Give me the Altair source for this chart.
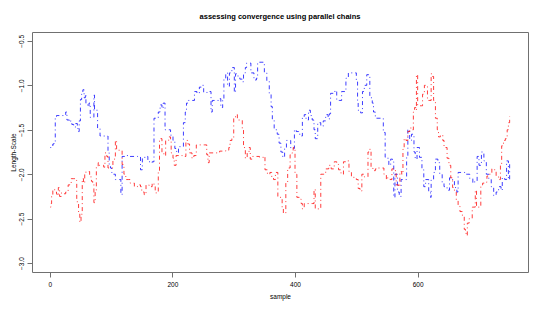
import altair as alt
import pandas as pd

# ---- data ----
blue_sample = [1, 2, 5, 7, 9, 11, 18, 25, 26, 28, 32, 34, 36, 39, 42, 45, 46, 48, 50, 52,
               54, 56, 58, 59, 62, 64, 66, 70, 72, 73, 76, 78, 82, 90, 93, 95, 97, 99, 101, 104,
               107, 114, 116, 118, 123, 128, 143, 148, 151, 155, 160, 164, 167, 170, 175, 177, 180, 183, 185, 188,
               196, 197, 201, 204, 207, 210, 215, 218, 221, 223, 226, 232, 236, 240, 244, 247, 251, 257, 260, 263,
               265, 271, 275, 279, 282, 284, 287, 290, 293, 297, 301, 303, 307, 310, 314, 316, 319, 321, 325, 328,
               333, 337, 339, 346, 350, 354, 358, 361, 363, 366, 369, 371, 374, 377, 380, 383, 386, 390, 393, 396,
               399, 402, 406, 410, 412, 415, 418, 422, 425, 428, 431, 433, 437, 442, 446, 450, 454, 456, 458, 462,
               465, 468, 473, 476, 480, 483, 487, 493, 498, 500, 502, 503, 507, 510, 513, 517, 520, 522, 526, 528,
               531, 542, 544, 547, 550, 553, 556, 559, 561, 563, 567, 570, 573, 578, 582, 584, 587, 590, 594, 596,
               599, 603, 607, 610, 613, 618, 621, 622, 626, 629, 633, 636, 640, 643, 648, 652, 657, 660, 664, 666,
               674, 677, 682, 685, 690, 693, 697, 700, 704, 708, 712, 716, 720, 724, 728, 732, 736, 738, 742, 745,
               748, 750]
blue_value = [-1.70, -1.69, -1.66, -1.63, -1.36, -1.34, -1.34, -1.34, -1.30, -1.39, -1.41, -1.40, -1.44, -1.47, -1.43, -1.48, -1.52, -1.40, -1.16, -1.10,
              -1.05, -1.14, -1.10, -1.21, -1.24, -1.20, -1.36, -1.36, -1.11, -1.28, -1.28, -1.48, -1.57, -1.57, -1.57, -1.76, -1.90, -1.93, -1.98, -2.00,
              -2.06, -2.06, -2.23, -1.80, -1.79, -1.80, -1.80, -1.95, -1.82, -1.80, -1.86, -1.87, -1.86, -1.37, -1.37, -1.30, -1.22, -1.26, -1.20, -1.50,
              -1.50, -1.56, -1.62, -1.71, -1.76, -1.69, -1.69, -1.42, -1.30, -1.20, -1.17, -1.17, -1.07, -1.09, -1.02, -1.00, -1.08, -1.08, -1.07, -1.30,
              -1.17, -1.17, -1.15, -1.25, -1.15, -0.92, -0.86, -1.01, -0.86, -0.80, -1.08, -0.87, -0.90, -0.93, -0.96, -0.86, -0.80, -0.75, -0.75, -0.86,
              -0.94, -0.92, -0.74, -0.74, -0.86, -0.95, -1.10, -1.24, -1.38, -1.50, -1.50, -1.55, -1.65, -1.75, -1.81, -1.70, -1.62, -1.62, -1.71, -1.71,
              -1.50, -1.52, -1.55, -1.57, -1.36, -1.33, -1.39, -1.28, -1.34, -1.39, -1.50, -1.60, -1.42, -1.46, -1.40, -1.33, -1.38, -1.32, -1.09, -1.09,
              -1.06, -1.17, -1.17, -1.07, -1.07, -0.92, -0.86, -0.86, -0.86, -0.96, -1.17, -1.28, -1.31, -1.07, -1.00, -0.88, -0.88, -1.14, -1.20, -1.30,
              -1.37, -1.37, -1.53, -1.81, -1.82, -1.90, -1.83, -1.86, -2.26, -2.00, -2.20, -2.25, -2.06, -2.06, -1.80, -1.50, -1.62, -1.55, -1.75, -1.83,
              -1.70, -1.81, -1.95, -2.14, -2.06, -2.20, -2.26, -2.06, -1.98, -1.83, -1.87, -2.00, -2.10, -2.14, -2.18, -2.04, -2.06, -2.15, -2.20, -1.98,
              -1.98, -2.00, -2.00, -2.05, -2.10, -2.08, -1.80, -1.90, -1.75, -1.85, -2.00, -2.06, -2.14, -2.24, -2.20, -2.14, -2.18, -2.04, -2.06, -1.85,
              -2.06, -1.88]

red_sample = [1, 2, 3, 5, 8, 11, 12, 14, 16, 19, 23, 26, 30, 33, 35, 39, 41, 44, 47, 49,
              51, 53, 55, 57, 59, 62, 65, 68, 70, 72, 74, 76, 79, 81, 85, 88, 90, 93, 95, 100,
              103, 105, 107, 109, 115, 118, 121, 124, 128, 131, 138, 143, 148, 150, 154, 157, 162, 167, 170, 172,
              175, 177, 179, 181, 183, 187, 189, 192, 194, 197, 198, 201, 203, 206, 212, 216, 220, 222, 225, 228,
              232, 235, 239, 252, 256, 258, 260, 273, 277, 287, 292, 294, 297, 300, 303, 306, 312, 314, 316, 319,
              322, 325, 327, 330, 335, 342, 349, 351, 355, 359, 362, 365, 368, 372, 375, 379, 381, 385, 388, 392,
              395, 397, 400, 403, 407, 410, 412, 415, 421, 428, 431, 433, 440, 442, 447, 450, 455, 459, 464, 468,
              471, 475, 479, 484, 488, 492, 496, 500, 503, 506, 509, 513, 517, 519, 521, 524, 527, 531, 536, 542,
              545, 549, 551, 555, 558, 563, 565, 569, 571, 574, 576, 578, 581, 584, 587, 591, 593, 595, 597, 598,
              600, 606, 608, 611, 614, 616, 620, 622, 624, 626, 629, 632, 634, 637, 641, 643, 646, 648, 651, 654,
              657, 660, 663, 666, 669, 673, 676, 678, 679, 681, 684, 687, 689, 692, 694, 696, 700, 703, 706, 710,
              713, 717, 721, 725, 728, 732, 735, 737, 740, 743, 746, 748, 750]
red_value = [-2.37, -2.33, -2.23, -2.17, -2.20, -2.22, -2.24, -2.15, -2.25, -2.21, -2.22, -2.20, -2.12, -2.10, -2.05, -2.05, -2.07, -2.31, -2.43, -2.54,
             -2.45, -2.05, -2.10, -2.00, -1.97, -1.97, -2.03, -2.08, -2.10, -2.32, -2.20, -1.92, -1.87, -1.90, -1.90, -1.92, -1.76, -1.80, -1.93, -1.93,
             -1.83, -1.83, -1.62, -1.73, -1.73, -1.89, -2.00, -2.06, -2.06, -2.10, -2.14, -2.12, -2.14, -2.20, -2.23, -2.12, -2.14, -2.10, -2.14, -2.21,
             -2.21, -1.98, -1.62, -1.60, -1.77, -1.79, -1.62, -1.62, -1.58, -1.62, -1.76, -1.82, -1.90, -1.79, -1.79, -1.80, -1.80, -1.62, -1.66, -1.76,
             -1.82, -1.79, -1.67, -1.67, -1.78, -1.87, -1.76, -1.76, -1.74, -1.73, -1.70, -1.62, -1.60, -1.36, -1.33, -1.39, -1.39, -1.50, -1.70, -1.82,
             -1.76, -1.70, -1.83, -1.80, -1.80, -1.81, -1.80, -1.95, -2.00, -1.98, -2.04, -2.06, -1.98, -2.25, -2.26, -2.38, -2.44, -2.10, -1.93, -1.78,
             -1.76, -1.70, -2.00, -2.26, -2.28, -2.33, -2.39, -2.33, -2.33, -2.33, -2.17, -2.39, -2.39, -2.00, -2.00, -1.94, -1.90, -1.94, -1.86, -1.89,
             -1.95, -2.00, -1.86, -1.85, -1.97, -2.03, -2.04, -2.06, -2.16, -2.19, -2.00, -2.03, -2.03, -1.75, -1.72, -1.93, -1.96, -1.94, -1.93, -1.93,
             -2.00, -2.06, -2.04, -2.06, -1.94, -1.96, -2.12, -2.14, -1.97, -2.00, -1.72, -1.60, -1.62, -1.52, -1.48, -1.50, -1.30, -1.25, -1.28, -0.88,
             -1.23, -1.23, -1.10, -1.00, -1.00, -1.17, -1.17, -0.87, -0.90, -1.17, -1.37, -1.50, -1.58, -1.56, -1.62, -1.70, -1.70, -1.82, -1.90, -2.04,
             -2.15, -2.20, -2.30, -2.36, -2.42, -2.48, -2.62, -2.66, -2.69, -2.55, -2.50, -2.50, -2.37, -2.37, -2.18, -2.37, -2.37, -2.12, -2.10, -2.09,
             -2.02, -2.00, -1.94, -1.95, -2.03, -2.06, -1.90, -1.68, -1.62, -1.60, -1.50, -1.42, -1.35]

chains = ["chain 1", "chain 2"]
chain_colors = ["#0000ff", "#ff0000"]
x_ticks = [0, 200, 400, 600]
y_ticks = [-3.0, -2.5, -2.0, -1.5, -1.0, -0.5]

rows = []
for s, v in zip(blue_sample, blue_value):
    rows.append({"sample": s, "value": v, "chain": chains[0]})
for s, v in zip(red_sample, red_value):
    rows.append({"sample": s, "value": v, "chain": chains[1]})
df = pd.DataFrame(rows)

FONT = "Liberation Sans"

chart = alt.Chart(df).mark_line(
    interpolate="step-after", strokeWidth=0.9, strokeDash=[1, 3, 4, 3], clip=True,
    strokeOpacity=0.85
).encode(
    x=alt.X("sample:Q",
            scale=alt.Scale(domain=[-28.96, 779.96], nice=False, zero=False),
            axis=alt.Axis(values=x_ticks, title="sample", format="d",
                          labelPadding=4, titlePadding=6)),
    y=alt.Y("value:Q",
            scale=alt.Scale(domain=[-3.1, -0.4], nice=False, zero=False),
            axis=alt.Axis(values=y_ticks, title="Length-Scale", format=".1f",
                          labelAngle=270, labelAlign="center", labelBaseline="bottom",
                          labelPadding=3, titlePadding=2)),
    color=alt.Color("chain:N", scale=alt.Scale(domain=chains, range=chain_colors), legend=None),
    order=alt.Order("sample:Q"),
).properties(
    width=496,
    height=240,
    title=alt.TitleParams("assessing convergence using parallel chains",
                          font=FONT, fontSize=7.5, fontWeight="bold", color="#000000",
                          anchor="middle", offset=12),
    autosize=alt.AutoSizeParams(type="none"),
    padding={"left": 24, "top": 24, "right": 5, "bottom": 32},
).configure_view(
    stroke="#707070", strokeWidth=1
).configure_axis(
    domain=False, grid=False, tickColor="#707070", tickSize=5, tickWidth=1,
    labelFont=FONT, labelFontSize=6.5, labelColor="#000000",
    titleFont=FONT, titleFontSize=6.5, titleFontWeight="normal", titleColor="#000000",
    labelFlush=False, labelOverlap=False
)

chart.save("out.html", embed_options={"renderer": "svg", "actions": False})
